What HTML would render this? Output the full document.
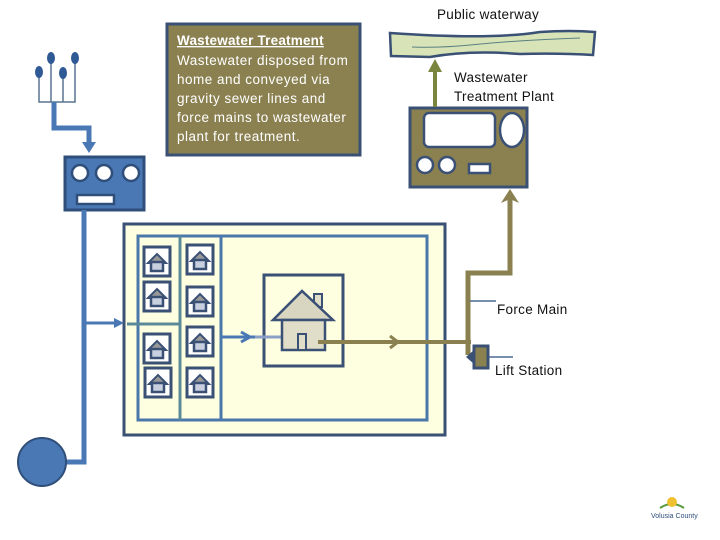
<!DOCTYPE html>
<html><head><style>
body{margin:0;background:#fff;width:720px;height:540px;overflow:hidden}
svg{display:block;font-family:"Liberation Sans",sans-serif}
</style></head><body>
<svg width="720" height="540" viewBox="0 0 720 540">
<defs>
<g id="sh">
<rect x="0" y="0" width="26" height="29" fill="#fff" stroke="#3a5075" stroke-width="3"/>
<path d="M4 16 L13 7 L22 16 Z" fill="#999" stroke="#3a5075" stroke-width="2"/>
<rect x="7" y="15" width="12" height="9" fill="#c8d0e0" stroke="#3a5075" stroke-width="2.5"/>
</g>
</defs>
<rect x="167" y="24" width="193" height="131" fill="#8b8050" stroke="#3a5075" stroke-width="3"/>
<g fill="#fff" font-size="13.5" letter-spacing="0.5">
<text x="177" y="45" text-decoration="underline" font-weight="bold" letter-spacing="0.2">Wastewater Treatment</text>
<text x="177" y="65">Wastewater disposed from</text>
<text x="177" y="84">home and conveyed via</text>
<text x="177" y="103">gravity sewer lines and</text>
<text x="177" y="122">force mains to wastewater</text>
<text x="177" y="141">plant for treatment.</text>
</g>
<g stroke="#5a7590" stroke-width="1.5" fill="none">
<path d="M39 72 V102 H75 V58 M51 58 V102 M63 72 V102"/>
</g>
<g fill="#2f5a95">
<ellipse cx="39" cy="72" rx="4" ry="6"/><ellipse cx="51" cy="58" rx="4" ry="6"/>
<ellipse cx="63" cy="73" rx="4" ry="6"/><ellipse cx="75" cy="58" rx="4" ry="6"/>
</g>
<path d="M54 102 V128 H89 V143" stroke="#4a78b5" stroke-width="5" fill="none"/>
<path d="M82 142 L96 142 L89 153 Z" fill="#4a78b5"/>
<rect x="65" y="157" width="79" height="53" fill="#4a78b5" stroke="#2f4f7a" stroke-width="3"/>
<g fill="#fff" stroke="#2f4f7a" stroke-width="2.5">
<circle cx="80" cy="173" r="8"/><circle cx="104" cy="173" r="8"/><circle cx="131" cy="173" r="8"/>
<rect x="77" y="195" width="37" height="9"/>
</g>
<path d="M84 210 V462 H66" stroke="#4a78b5" stroke-width="5" fill="none"/>
<circle cx="42" cy="462" r="24" fill="#4a78b5" stroke="#2f4f7a" stroke-width="2"/>
<rect x="124" y="224" width="321" height="211" fill="#fefee0" stroke="#3a5075" stroke-width="3"/>
<rect x="138" y="236" width="289" height="184" fill="none" stroke="#4a78aa" stroke-width="3"/>
<path d="M180 236 V420 M127 324 H180" stroke="#5a8a99" stroke-width="3"/>
<path d="M221 236 V420" stroke="#4a78aa" stroke-width="3"/>
<path d="M84 323 H118" stroke="#4a78b5" stroke-width="3"/>
<path d="M114 318 L124 323 L114 328 Z" fill="#4a78b5"/>
<use href="#sh" x="144" y="247"/><use href="#sh" x="144" y="282"/>
<use href="#sh" x="144" y="334"/><use href="#sh" x="145" y="368"/>
<use href="#sh" x="187" y="245"/><use href="#sh" x="187" y="287"/>
<use href="#sh" x="187" y="327"/><use href="#sh" x="187" y="368"/>
<rect x="264" y="275" width="79" height="91" fill="#fefee0" stroke="#3a5075" stroke-width="3"/>
<path d="M221 337 H281" stroke="#4a78b5" stroke-width="3"/>
<path d="M255 337 H281" stroke="#8aa0c8" stroke-width="3"/>
<path d="M241 332 L250 337 L241 342" fill="none" stroke="#4a78b5" stroke-width="3"/>
<rect x="314" y="294" width="8" height="13" fill="#e0ddc8" stroke="#3a5075" stroke-width="2"/>
<path d="M273 320 L302 291 L333 320 Z" fill="#d8d5c0" stroke="#3a5075" stroke-width="2.5"/>
<rect x="282" y="320" width="43" height="30" fill="#e0ddc8" stroke="#3a5075" stroke-width="2.5"/>
<rect x="298" y="334" width="8" height="16" fill="#e0ddc8" stroke="#3a5075" stroke-width="2"/>
<path d="M318 342 H471" stroke="#8b8050" stroke-width="4"/>
<path d="M390 336 L398 342 L390 348" fill="none" stroke="#8b8050" stroke-width="3"/>
<path d="M468 355 V273 H510 V198" stroke="#8b8050" stroke-width="5" fill="none"/>
<path d="M501 203 L510 189 L519 203 L510 199 Z" fill="#8b8050"/>
<rect x="474" y="346" width="14" height="22" fill="#8b8050" stroke="#3a5075" stroke-width="3"/>
<path d="M474 350 L466 357 L474 364 Z" fill="#3a5075"/>
<path d="M470 301 H496 M489 357 H513" stroke="#4a6a90" stroke-width="1.5"/>
<rect x="410" y="108" width="117" height="79" fill="#8b8050" stroke="#3a5075" stroke-width="3"/>
<rect x="424" y="113" width="71" height="34" rx="5" fill="#fff" stroke="#3a5075" stroke-width="2.5"/>
<ellipse cx="512" cy="130" rx="12" ry="17" fill="#fff" stroke="#3a5075" stroke-width="2.5"/>
<circle cx="425" cy="165" r="8" fill="#fff" stroke="#3a5075" stroke-width="2.5"/>
<circle cx="447" cy="165" r="8" fill="#fff" stroke="#3a5075" stroke-width="2.5"/>
<rect x="469" y="164" width="21" height="9" fill="#fff" stroke="#3a5075" stroke-width="2.5"/>
<path d="M435 107 V70" stroke="#7a8540" stroke-width="4"/>
<path d="M428 72 L435 59 L442 72 Z" fill="#7a8540"/>
<path d="M390 33 Q490 40 540 32 Q570 30 595 32 L593 55 Q560 53 520 54 Q470 50 430 57 L391 56 Z" fill="#d8e4b8" stroke="#3a5075" stroke-width="2.5"/>
<path d="M412 47 Q440 48 470 45 Q520 40 580 38" stroke="#5a8080" stroke-width="1" fill="none"/>
<g font-size="13.5" fill="#111" letter-spacing="0.3">
<text x="437" y="19">Public waterway</text>
<text x="454" y="82">Wastewater</text>
<text x="454" y="101">Treatment Plant</text>
<text x="497" y="314">Force Main</text>
<text x="495" y="375">Lift Station</text>
</g>
<path d="M660 508 Q672 500 684 508" stroke="#5a9a40" stroke-width="2" fill="none"/>
<circle cx="672" cy="502" r="5" fill="#f0c030"/>
<text x="651" y="518" font-size="7" fill="#2f4f7a">Volusia County</text>
</svg>
</body></html>
